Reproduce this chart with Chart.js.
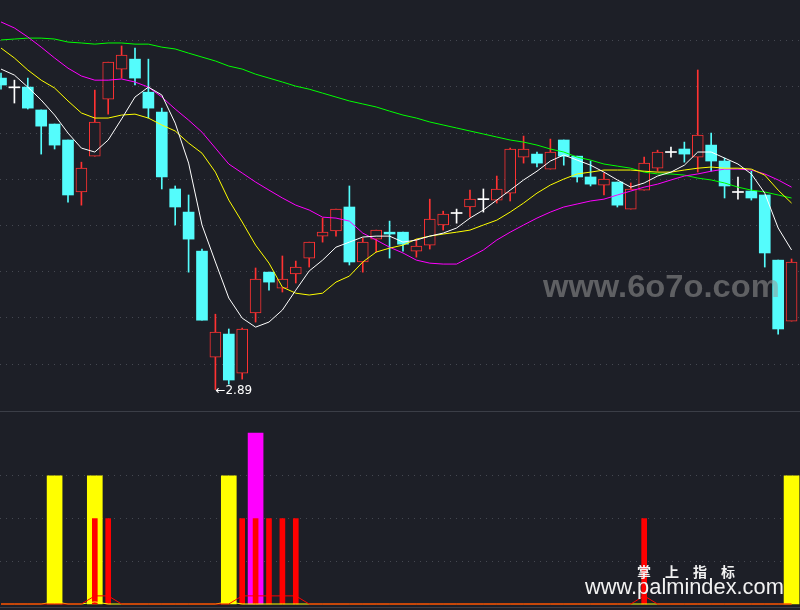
<!DOCTYPE html>
<html>
<head>
<meta charset="utf-8">
<script src="https://cdn.jsdelivr.net/npm/chart.js@4.4.1/dist/chart.umd.min.js"></script>
<style>
  html, body { margin: 0; padding: 0; background: #1d1f27; overflow: hidden; }
  #wrap { position: relative; width: 800px; height: 610px; }
  canvas { position: absolute; left: 0; }
  #prix { top: 0; }
  #signal { top: 411px; }
  .trait { position: absolute; left: 0; width: 800px; height: 1px; background: #3b3e47; }
  .wm { position: absolute; white-space: nowrap; line-height: 1; transform-origin: 0 0; }
  #wm1 { left: 543px; top: 268px; font: bold 32px "Liberation Sans", Arial, sans-serif; color: rgba(150,150,150,0.55); }
  #wm2 { left: 637px; top: 561px; font: bold 14px "Noto Sans CJK SC", sans-serif; color: #f2f2f2; letter-spacing: 14px; }
  #wm3 { left: 585px; top: 574px; font: 21.6px "Liberation Sans", Arial, sans-serif; color: #f2f2f2; }
</style>
</head>
<body>
<div id="wrap">
  <canvas id="prix" width="800" height="411"></canvas>
  <div class="wm" id="wm1">www.6o7o.com</div>
  <div class="trait" style="top:411px"></div>
  <canvas id="signal" width="800" height="199"></canvas>
  <div class="trait" style="top:607px"></div>
  <div class="wm" id="wm2">掌上指标</div>
  <div class="wm" id="wm3">www.palmindex.com</div>
</div>
<script>
// cours journaliers (ouverture, plus haut, plus bas, cloture)
var ouvertures = [4.238,4.198,4.199,4.100,4.039,3.970,3.745,3.900,4.147,4.277,
  4.320,4.177,4.091,3.758,3.658,3.489,3.030,3.130,2.961,3.221,
  3.398,3.329,3.390,3.459,3.554,3.576,3.680,3.442,3.541,3.571,
  3.571,3.489,3.515,3.602,3.654,3.680,3.714,3.710,3.740,3.896,
  3.909,3.844,3.970,3.900,3.810,3.775,3.788,3.671,3.753,3.848,
  3.918,3.931,3.896,3.948,3.879,3.745,3.749,3.732,3.450,3.186];
var hauts = [4.260,4.229,4.238,4.100,4.039,3.970,3.874,4.186,4.307,4.377,
  4.368,4.320,4.108,3.771,3.732,3.498,3.216,3.152,3.156,3.416,
  3.398,3.468,3.446,3.528,3.632,3.671,3.771,3.545,3.580,3.619,
  3.571,3.541,3.714,3.662,3.671,3.753,3.758,3.814,3.935,3.987,
  3.918,3.974,3.970,3.900,3.879,3.827,3.788,3.784,3.896,3.926,
  3.939,3.961,4.273,4.000,3.892,3.810,3.835,3.732,3.450,3.455];
var bas = [4.190,4.130,4.104,3.909,3.931,3.701,3.688,3.900,4.082,4.238,
  4.208,4.065,3.758,3.602,3.398,3.190,2.890,2.913,2.935,3.182,
  3.320,3.312,3.351,3.420,3.528,3.554,3.429,3.398,3.485,3.459,
  3.489,3.463,3.498,3.580,3.610,3.636,3.658,3.697,3.706,3.870,
  3.853,3.844,3.861,3.788,3.771,3.732,3.680,3.671,3.753,3.835,
  3.896,3.874,3.831,3.835,3.719,3.714,3.710,3.420,3.130,3.186];
var clotures = [4.208,4.198,4.108,4.030,3.948,3.732,3.848,4.048,4.307,4.338,
  4.238,4.108,3.810,3.680,3.541,3.190,3.139,2.931,3.152,3.368,
  3.355,3.368,3.420,3.528,3.571,3.671,3.442,3.528,3.580,3.563,
  3.519,3.511,3.628,3.649,3.654,3.714,3.714,3.758,3.931,3.931,
  3.870,3.918,3.900,3.810,3.779,3.801,3.688,3.758,3.870,3.918,
  3.918,3.909,3.991,3.879,3.771,3.745,3.719,3.481,3.152,3.442];

// moyennes mobiles
var mm5 = [4.277,4.251,4.199,4.143,4.078,4.000,3.935,3.918,3.970,4.061,
  4.156,4.199,4.165,4.043,3.870,3.602,3.442,3.286,3.199,3.160,
  3.182,3.234,3.320,3.403,3.450,3.506,3.528,3.550,3.554,3.554,
  3.528,3.537,3.554,3.567,3.589,3.632,3.667,3.710,3.753,3.797,
  3.835,3.879,3.905,3.883,3.861,3.831,3.797,3.766,3.784,3.814,
  3.831,3.861,3.918,3.918,3.892,3.866,3.823,3.740,3.589,3.494];
var mm10 = [4.368,4.325,4.273,4.229,4.195,4.139,4.087,4.065,4.065,4.078,
  4.082,4.065,4.035,4.009,3.957,3.913,3.831,3.710,3.615,3.515,
  3.437,3.333,3.307,3.299,3.307,3.355,3.381,3.442,3.485,3.502,
  3.515,3.541,3.554,3.563,3.571,3.580,3.602,3.623,3.658,3.697,
  3.740,3.775,3.801,3.823,3.831,3.840,3.840,3.840,3.835,3.831,
  3.831,3.840,3.848,3.853,3.848,3.848,3.844,3.818,3.753,3.697];
var mm20 = [4.481,4.455,4.416,4.372,4.325,4.281,4.247,4.229,4.229,4.234,
  4.221,4.199,4.156,4.104,4.056,4.004,3.935,3.866,3.827,3.788,
  3.753,3.719,3.688,3.667,3.636,3.632,3.619,3.567,3.537,3.506,
  3.481,3.450,3.437,3.433,3.433,3.463,3.494,3.537,3.571,3.602,
  3.632,3.658,3.680,3.693,3.706,3.714,3.732,3.749,3.766,3.779,
  3.797,3.814,3.823,3.835,3.844,3.844,3.840,3.823,3.797,3.766];
var mm60 = [4.403,4.407,4.411,4.411,4.407,4.394,4.390,4.385,4.390,4.390,
  4.385,4.385,4.372,4.364,4.346,4.329,4.312,4.290,4.277,4.255,
  4.238,4.221,4.203,4.190,4.173,4.156,4.139,4.126,4.113,4.095,
  4.078,4.065,4.048,4.035,4.022,4.009,3.996,3.983,3.970,3.961,
  3.948,3.931,3.918,3.896,3.883,3.866,3.857,3.848,3.831,3.823,
  3.823,3.818,3.805,3.797,3.784,3.766,3.753,3.745,3.732,3.719];
var grillePrix = [3.0, 3.2, 3.4, 3.6, 3.8, 4.0, 4.2, 4.4];

// signaux du panneau du bas : [indice, valeur]
var signauxJaunes = [[4, 3], [7, 3], [17, 3], [59, 3]];
var signauxRouges = [[7, 2], [8, 2], [18, 2], [19, 2], [20, 2], [21, 2], [22, 2], [48, 2]];
var signauxMagenta = [[19, 4]];
var bosseRouge = [[7, 0.19], [8, 0.19], [18, 0.19], [19, 0.19], [20, 0.19], [21, 0.19], [22, 0.19], [48, 0.19]];
var bosseJaune = [[4, 0.05], [7, 0.05], [17, 0.05]];
var grilleSignal = [1, 2, 3];

var FOND = '#1d1f27', ROUGE = '#ff3232', CYAN = '#54fcfc', BLANC = '#ffffff';
var GRILLE = '#454851';

var n = clotures.length;
var idx = [];
for (var i = 0; i < n; i++) idx.push(i);

function couleur(i) {
  if (clotures[i] > ouvertures[i]) return ROUGE;
  if (clotures[i] < ouvertures[i]) return CYAN;
  return BLANC;
}
function serie(tab) {
  return idx.map(function(i) { return { x: i, y: tab[i] }; });
}
function complete(liste) {
  var t = idx.map(function() { return 0; });
  liste.forEach(function(p) { t[p[0]] = p[1]; });
  return t;
}
function barres(liste) {
  return liste.map(function(p) { return { x: p[0], y: p[1] }; });
}

var axeX = { type: 'linear', min: -0.075, max: 59.63, offset: false, display: false };

function axeY(min, max, grille) {
  return {
    min: min, max: max,
    afterBuildTicks: function(s) { s.ticks = grille.map(function(v) { return { value: v }; }); },
    ticks: { display: false },
    grid: { color: GRILLE, drawTicks: false, lineWidth: 1 },
    border: { display: false, dash: [1, 5] }
  };
}

var etiquetteBas = {
  id: 'etiquetteBas',
  afterDatasetsDraw: function(chart) {
    var k = 0;
    for (var i = 1; i < n; i++) if (bas[i] < bas[k]) k = i;
    var x = chart.scales.x.getPixelForValue(k);
    var y = chart.scales.y.getPixelForValue(bas[k]);
    var ctx = chart.ctx;
    ctx.save();
    ctx.fillStyle = BLANC;
    ctx.font = '12px "DejaVu Sans"';
    ctx.textBaseline = 'middle';
    ctx.fillText('\u2190' + bas[k].toFixed(2), x, y + 1);
    ctx.restore();
  }
};

var mm = [[mm5, BLANC], [mm10, '#ffff00'], [mm20, '#ff00ff'], [mm60, '#00ff00']];
var lignes = mm.map(function(m) {
  return { type: 'line', data: serie(m[0]), borderColor: m[1], borderWidth: 1,
           pointRadius: 0, tension: 0, order: 0 };
});

new Chart(document.getElementById('prix'), {
  type: 'bar',
  data: {
    datasets: lignes.concat([
      {
        data: idx.map(function(i) {
          var o = ouvertures[i], c = clotures[i];
          return { x: i, y: o === c ? [o - 0.0022, o + 0.0022] : [o, c] };
        }),
        backgroundColor: idx.map(function(i) { return couleur(i) === ROUGE ? FOND : couleur(i); }),
        borderColor: idx.map(couleur),
        borderWidth: idx.map(function(i) { return couleur(i) === ROUGE ? 1 : 0; }),
        borderSkipped: false,
        barThickness: 11, grouped: false, order: 1
      },
      {
        data: idx.map(function(i) { return { x: i, y: [bas[i], hauts[i]] }; }),
        backgroundColor: idx.map(couleur),
        borderWidth: 0,
        barThickness: 1, grouped: false, order: 2
      }
    ])
  },
  options: {
    responsive: false,
    animation: false,
    layout: { padding: 0 },
    plugins: { legend: { display: false }, tooltip: { enabled: false } },
    scales: { x: axeX, y: axeY(2.797, 4.576, grillePrix) }
  },
  plugins: [etiquetteBas]
});

new Chart(document.getElementById('signal'), {
  type: 'bar',
  data: {
    datasets: [
      { type: 'line', data: serie(complete(bosseRouge)), borderColor: '#ff0000', borderWidth: 1,
        pointRadius: 0, tension: 0, order: -1 },
      { type: 'line', data: serie(complete(bosseJaune)), borderColor: '#ffff00', borderWidth: 1,
        pointRadius: 0, tension: 0, order: 0 },
      { data: barres(signauxRouges), backgroundColor: '#ff0000', barThickness: 5, grouped: false, order: 1 },
      { data: barres(signauxMagenta), backgroundColor: '#ff00ff', barThickness: 15, grouped: false, order: 2 },
      { data: barres(signauxJaunes), backgroundColor: '#ffff00', barThickness: 15, grouped: false, order: 2 }
    ]
  },
  options: {
    responsive: false,
    animation: false,
    layout: { padding: 0 },
    plugins: { legend: { display: false }, tooltip: { enabled: false } },
    scales: { x: axeX, y: axeY(-0.1405, 4.52, grilleSignal) }
  }
});

function ajuste(id, largeur) {
  var el = document.getElementById(id);
  el.style.transform = 'scaleX(' + (largeur / el.offsetWidth) + ')';
}
ajuste('wm1', 237);
ajuste('wm3', 199);
</script>
</body>
</html>
